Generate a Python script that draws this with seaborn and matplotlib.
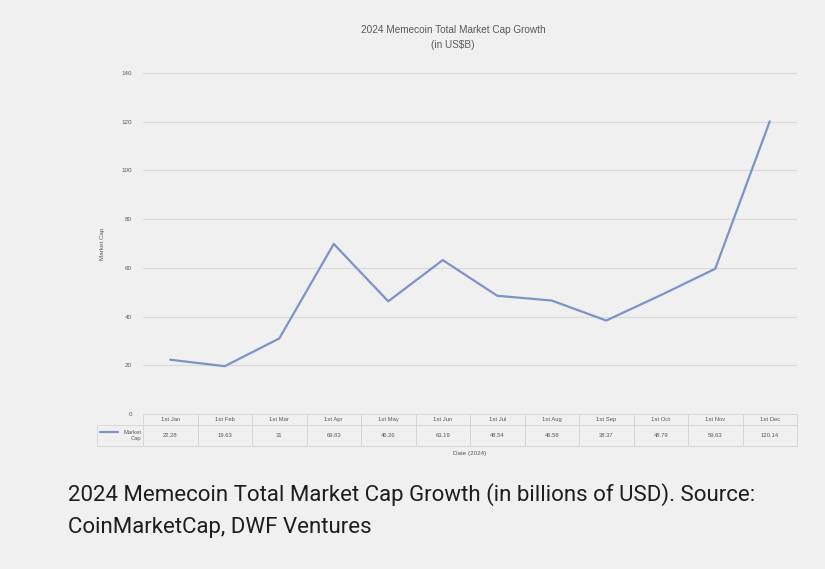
import matplotlib
matplotlib.use("Agg")
import matplotlib.pyplot as plt
import seaborn as sns
import pandas as pd

months = ["1st Jan", "1st Feb", "1st Mar", "1st Apr", "1st May", "1st Jun",
          "1st Jul", "1st Aug", "1st Sep", "1st Oct", "1st Nov", "1st Dec"]
market_cap = [22.28, 19.63, 31, 69.83, 46.26, 63.19, 48.54, 46.58, 38.37, 48.79, 59.63, 120.14]
yticks = [0, 20, 40, 60, 80, 100, 120, 140]

df = pd.DataFrame({"pos": range(len(months)), "cap": market_cap})

bg = "#f0f0f0"
grey = "#595959"
line_col = "#7b93c8"

sns.set_style("white")
plt.rcParams["font.family"] = ["Liberation Sans", "DejaVu Sans"]

fig = plt.figure(figsize=(8.25, 5.69), dpi=100, facecolor=bg)
ax = fig.add_axes([143 / 825, 1 - 414 / 569, 654 / 825, 341 / 569])
ax.set_facecolor(bg)

sns.lineplot(data=df, x="pos", y="cap", ax=ax, color=line_col, linewidth=1.6)

ax.set_xlim(-0.5, len(months) - 0.5)
ax.set_ylim(0, 140)
ax.set_yticks(yticks)
ax.set_yticklabels([str(t) for t in yticks], fontsize=4.5, color=grey)
ax.tick_params(axis="y", length=0, pad=8)
ax.set_xticks([])
ax.set_xlabel("")
ax.set_ylabel("Market Cap", fontsize=4.5, color=grey, labelpad=12)
ax.grid(axis="y", color="#d9d9d9", linewidth=0.8)
for s in ax.spines.values():
    s.set_visible(False)

# data table below the axis (first column holds the legend key)
label_w = 46 / 654
cell_w = 1 / len(months)
tbl = ax.table(cellText=[["Market\nCap"] + [f"{v:g}" for v in market_cap]],
               colLabels=[""] + months,
               colWidths=[label_w] + [cell_w] * len(months),
               cellLoc="center",
               bbox=[-label_w, -32 / 341, 1 + label_w, 32 / 341])
tbl.auto_set_font_size(False)
for (r, c), cell in tbl.get_celld().items():
    cell.set_facecolor(bg)
    cell.set_edgecolor("#d4d4d4")
    cell.set_linewidth(0.6)
    cell.set_height(0.35 if r == 0 else 0.65)
    cell.get_text().set_fontsize(4.2)
    cell.get_text().set_color(grey)
    if r == 0 and c == 0:
        cell.visible_edges = ""
    if c == 0 and r == 1:
        cell.get_text().set_ha("right")
        cell.PAD = 0.03

# legend key in the row label cell
ax.plot([-43 / 654, -25 / 654], [-18 / 341, -18 / 341], transform=ax.transAxes,
        color=line_col, linewidth=1.6, clip_on=False)

fig.text(470 / 825, 1 - 453 / 569, "Date (2024)", fontsize=4.5, color=grey,
         ha="center", va="center")
fig.text(453 / 825, 1 - 30 / 569, "2024 Memecoin Total Market Cap Growth",
         fontsize=7.2, color=grey, ha="center", va="center")
fig.text(453 / 825, 1 - 45 / 569, "(in US$B)",
         fontsize=7.2, color=grey, ha="center", va="center")

fig.text(68 / 825, 1 - 495 / 569,
         "2024 Memecoin Total Market Cap Growth (in billions of USD). Source:",
         fontsize=16, color="#1e1e1e", family=["Roboto", "DejaVu Sans"],
         ha="left", va="center")
fig.text(68 / 825, 1 - 528 / 569, "CoinMarketCap, DWF Ventures",
         fontsize=16, color="#1e1e1e", family=["Roboto", "DejaVu Sans"],
         ha="left", va="center")

fig.savefig("out.png", dpi=100, facecolor=bg)
